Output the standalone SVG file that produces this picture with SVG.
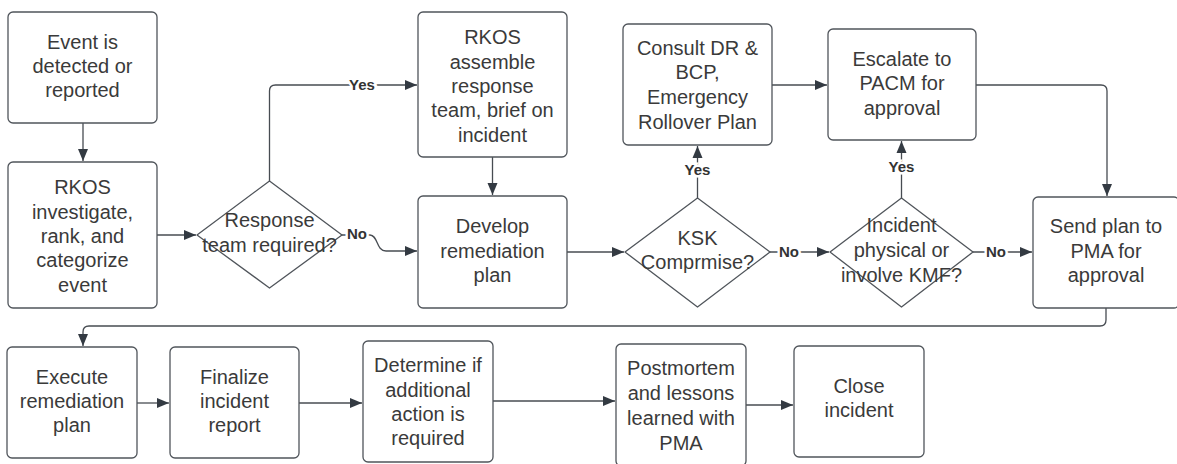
<svg xmlns="http://www.w3.org/2000/svg" width="1177" height="464" viewBox="0 0 1177 464">
<style>
.box{fill:#fff;stroke:#50555b;stroke-width:1.3}
.t{font-family:"Liberation Sans",Arial,sans-serif;font-size:20px;fill:#3a3a3a;text-anchor:middle}
.lbl{font-family:"Liberation Sans",Arial,sans-serif;font-size:15px;font-weight:bold;fill:#333;text-anchor:middle;paint-order:stroke;stroke:#fff;stroke-width:5px}
.c{fill:none;stroke:#474c52;stroke-width:1.3}
.a{marker-end:url(#ah)}
</style>
<defs>
<marker id="ah" markerUnits="userSpaceOnUse" markerWidth="14" markerHeight="12" refX="12" refY="6" orient="auto">
<path d="M0,1 L12,6 L0,11 Z" fill="#333a42"/>
</marker>
</defs>
<rect width="1177" height="464" fill="#fff"/>
<g id="connectors">
<path class="c a" d="M83,123 V161"/>
<path class="c a" d="M157,235 H196"/>
<path class="c a" d="M269.5,181 V91 Q269.5,85 275.5,85 H417"/>
<path class="c a" d="M342,235 H370 C378,235 376,251 386,251 H417"/>
<path class="c a" d="M492.5,157 V195"/>
<path class="c a" d="M567,252 H624"/>
<path class="c a" d="M697.5,198 V146"/>
<path class="c a" d="M770,252 H829"/>
<path class="c a" d="M901.5,198 V141"/>
<path class="c a" d="M772,85 H827"/>
<path class="c a" d="M976,85 H1101 Q1107,85 1107,91 V196"/>
<path class="c a" d="M973,252 H1032"/>
<path class="c a" d="M1106,308 V320 Q1106,326 1100,326 H89 Q83,326 83,332 V346"/>
<path class="c a" d="M137,403 H169"/>
<path class="c a" d="M299,403 H362"/>
<path class="c a" d="M493,401 H615"/>
<path class="c a" d="M746,405 H793"/>
<text class="lbl" x="362" y="90">Yes</text>
<text class="lbl" x="357" y="239">No</text>
<text class="lbl" x="697.5" y="175">Yes</text>
<text class="lbl" x="901.5" y="172">Yes</text>
<text class="lbl" x="789" y="257">No</text>
<text class="lbl" x="996" y="257">No</text>
</g>
<g id="n1"><rect class="box" x="8" y="12" width="149" height="111" rx="5"/>
<text class="t" x="82.5" y="49">Event is</text><text class="t" x="82.5" y="73">detected or</text><text class="t" x="82.5" y="97">reported</text></g>
<g id="n2"><rect class="box" x="8" y="162" width="149" height="146" rx="5"/>
<text class="t" x="82.5" y="194">RKOS</text><text class="t" x="82.5" y="219">investigate,</text><text class="t" x="82.5" y="243">rank, and</text><text class="t" x="82.5" y="267">categorize</text><text class="t" x="82.5" y="292">event</text></g>
<g id="d1"><path class="box" d="M269.5,181 L342,235 L269.5,288 L197,235 Z" stroke-linejoin="round"/>
<text class="t" x="269.5" y="227">Response</text><text class="t" x="269.5" y="252">team required?</text></g>
<g id="n3"><rect class="box" x="418" y="12" width="149" height="145" rx="5"/>
<text class="t" x="492.5" y="44">RKOS</text><text class="t" x="492.5" y="69">assemble</text><text class="t" x="492.5" y="93">response</text><text class="t" x="492.5" y="117">team, brief on</text><text class="t" x="492.5" y="142">incident</text></g>
<g id="n4"><rect class="box" x="418" y="196" width="149" height="112" rx="5"/>
<text class="t" x="492.5" y="233">Develop</text><text class="t" x="492.5" y="258">remediation</text><text class="t" x="492.5" y="282">plan</text></g>
<g id="d2"><path class="box" d="M697.5,198 L770,252 L697.5,307 L625,252 Z" stroke-linejoin="round"/>
<text class="t" x="697.5" y="245">KSK</text><text class="t" x="697.5" y="269">Comprmise?</text></g>
<g id="n5"><rect class="box" x="623" y="24" width="149" height="121" rx="5"/>
<text class="t" x="697.5" y="55">Consult DR &amp;</text><text class="t" x="697.5" y="79">BCP,</text><text class="t" x="697.5" y="104">Emergency</text><text class="t" x="697.5" y="129">Rollover Plan</text></g>
<g id="n6"><rect class="box" x="828" y="29" width="148" height="111" rx="5"/>
<text class="t" x="902" y="66">Escalate to</text><text class="t" x="902" y="90">PACM for</text><text class="t" x="902" y="115">approval</text></g>
<g id="d3"><path class="box" d="M901.5,198 L973,252 L901.5,307 L830,252 Z" stroke-linejoin="round"/>
<text class="t" x="901.5" y="232">Incident</text><text class="t" x="901.5" y="257">physical or</text><text class="t" x="901.5" y="282">involve KMF?</text></g>
<g id="n7"><rect class="box" x="1033" y="197" width="146" height="111" rx="5"/>
<text class="t" x="1106" y="233">Send plan to</text><text class="t" x="1106" y="258">PMA for</text><text class="t" x="1106" y="282">approval</text></g>
<g id="n8"><rect class="box" x="7" y="347" width="130" height="111" rx="5"/>
<text class="t" x="72" y="384">Execute</text><text class="t" x="72" y="408">remediation</text><text class="t" x="72" y="432">plan</text></g>
<g id="n9"><rect class="box" x="170" y="347" width="129" height="111" rx="5"/>
<text class="t" x="234.5" y="384">Finalize</text><text class="t" x="234.5" y="408">incident</text><text class="t" x="234.5" y="432">report</text></g>
<g id="n10"><rect class="box" x="363" y="341" width="130" height="121" rx="5"/>
<text class="t" x="428" y="372">Determine if</text><text class="t" x="428" y="397">additional</text><text class="t" x="428" y="421">action is</text><text class="t" x="428" y="445">required</text></g>
<g id="n11"><rect class="box" x="616" y="344" width="130" height="122" rx="5"/>
<text class="t" x="681" y="375">Postmortem</text><text class="t" x="681" y="400">and lessons</text><text class="t" x="681" y="425">learned with</text><text class="t" x="681" y="450">PMA</text></g>
<g id="n12"><rect class="box" x="794" y="346" width="130" height="111" rx="5"/>
<text class="t" x="859" y="393">Close</text><text class="t" x="859" y="417">incident</text></g>
</svg>
